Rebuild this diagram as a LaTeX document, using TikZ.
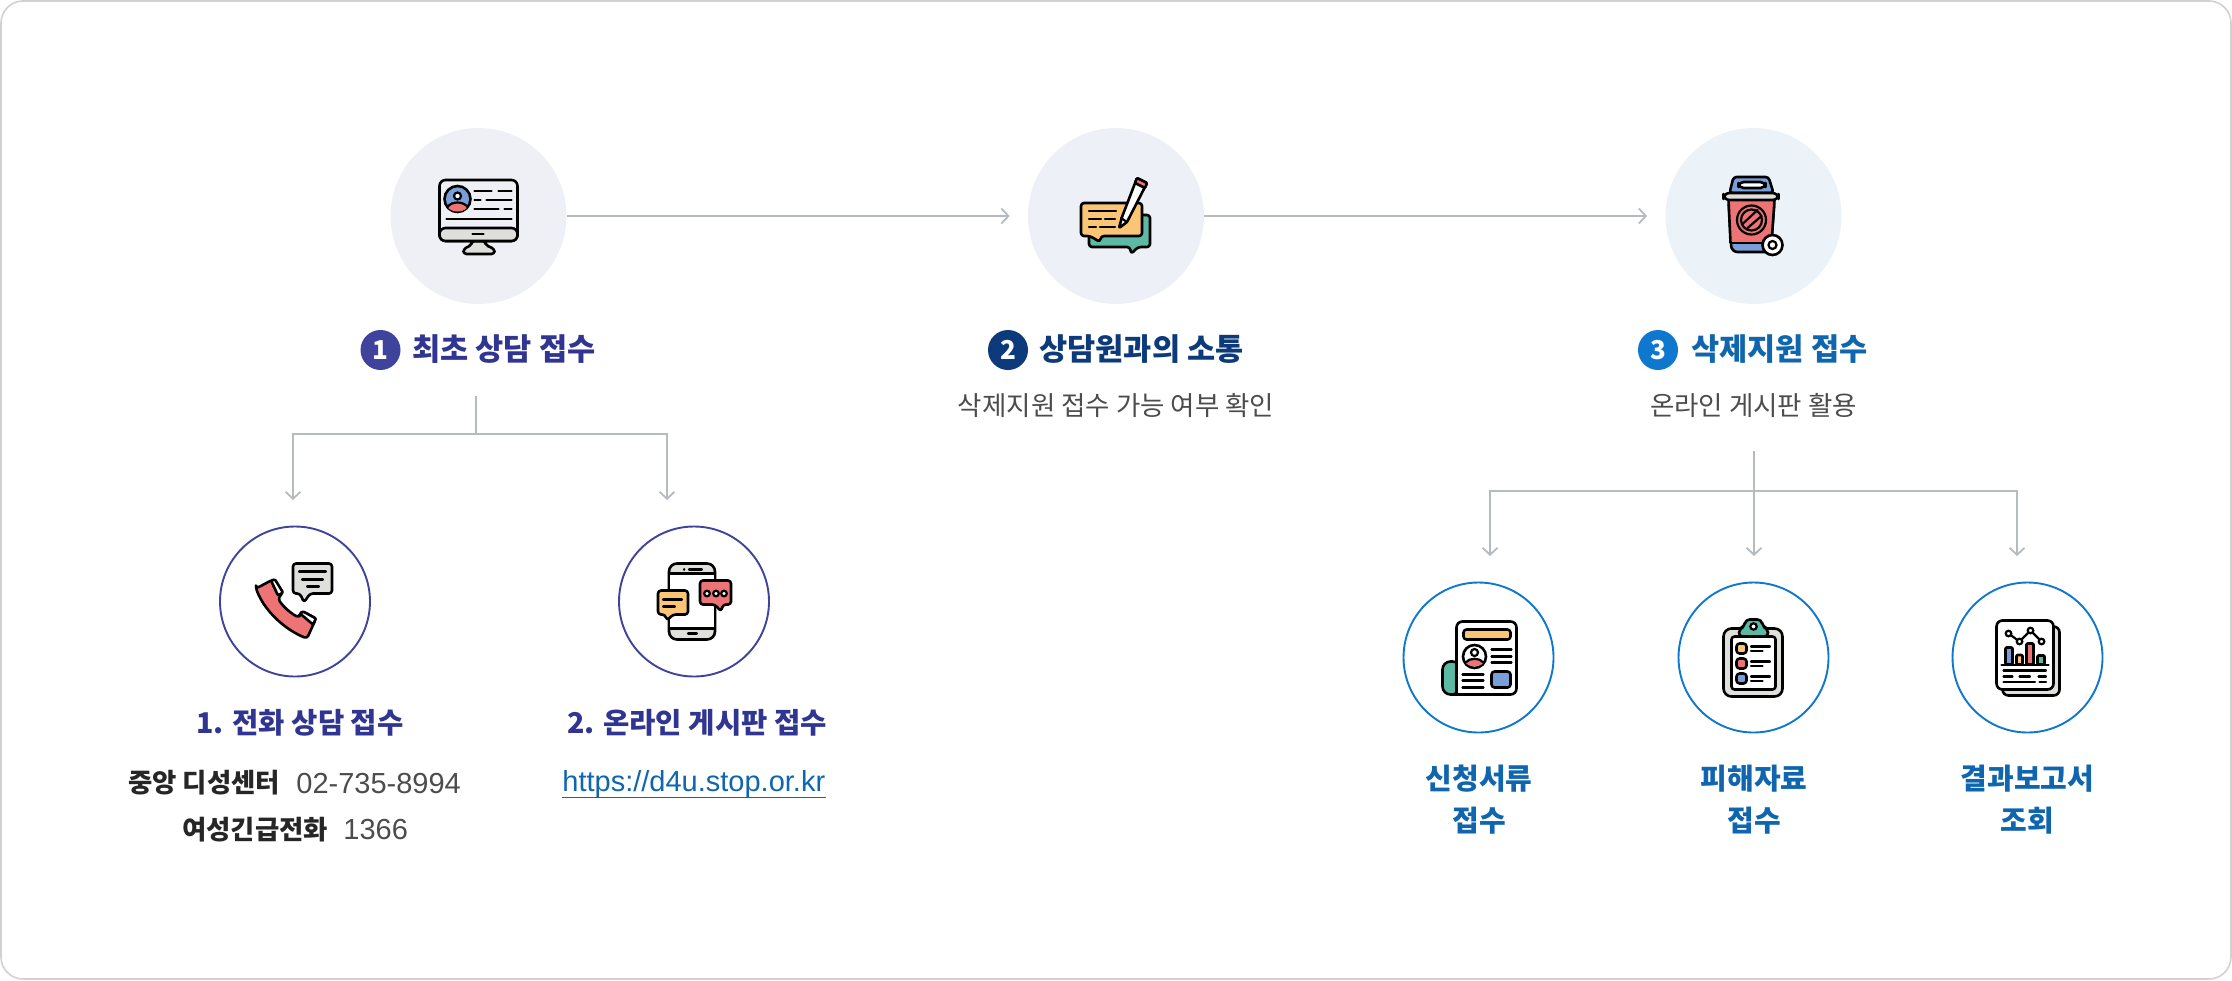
\documentclass[tikz,border=0pt]{standalone}
\usepackage{fontspec}
\setmainfont{Noto Sans CJK KR}
\newfontfamily\latinfont{Liberation Sans}
\usetikzlibrary{arrows.meta}
\definecolor{discone}{HTML}{EFF0F6}
\definecolor{disctwo}{HTML}{EDF0F6}
\definecolor{discthree}{HTML}{EBF2F8}
\definecolor{purpleink}{HTML}{2F3590}
\definecolor{purplering}{HTML}{3F439B}
\definecolor{navyink}{HTML}{0D3A7A}
\definecolor{blueink}{HTML}{0F65AE}
\definecolor{bluering}{HTML}{0E78CF}
\definecolor{flowgray}{HTML}{B5BBC1}
\definecolor{iconorange}{HTML}{FBC576}
\definecolor{iconred}{HTML}{EE7374}
\definecolor{iconblue}{HTML}{7A9FD8}
\definecolor{icongreen}{HTML}{5BB9A4}
\definecolor{icongray}{HTML}{DFDFDC}
\begin{document}
\begin{tikzpicture}[x=0.5pt,y=-0.5pt,
			bigdisc/.style={
				circle,
				minimum size = 88pt,
				inner sep = 0},
			ring/.style={
				circle,
				draw,
				line width = 0.95pt,
				minimum size = 75pt,
				inner sep = 0},
			badge/.style={
				circle,
				minimum size = 20pt,
				inner sep = 0,
				text = white,
				font = \fontsize{13}{13}\selectfont\bfseries},
			steptitle/.style={
				anchor = base west,
				inner sep = 0,
				font = \fontsize{15.3}{15.3}\selectfont\bfseries},
			subtitle/.style={
				anchor = base,
				inner sep = 0,
				color = purpleink,
				font = \fontsize{14.3}{14.3}\selectfont\bfseries},
			note/.style={
				anchor = base,
				inner sep = 0,
				color = black!70,
				font = \fontsize{13.25}{13.25}\selectfont},
			contact/.style={
				anchor = base west,
				inner sep = 0,
				color = black!85,
				font = \fontsize{13.2}{13.2}\selectfont\bfseries},
			number/.style={
				anchor = base west,
				inner sep = 0,
				color = black!70,
				font = \fontsize{14.5}{14.5}\selectfont\latinfont},
			doclabel/.style={
				anchor = base,
				inner sep = 0,
				color = blueink,
				font = \fontsize{14.5}{14.5}\selectfont\bfseries},
			flow/.style={
				draw = flowgray,
				line width = 0.9pt,
				-{Straight Barb[length=3.5pt,width=7.5pt]}},
			stem/.style={
				draw = flowgray,
				line width = 0.9pt},
			ink/.style={
				draw = black,
				line width = 1.3pt,
				line join = round,
				rounded corners = 1.5pt},
			rule/.style={
				draw = black,
				line width = 1.1pt,
				line cap = round}]
	\useasboundingbox (0, 0) rectangle (2232, 980);
	\draw[draw=black!18, line width=0.8pt, rounded corners=11pt] (1, 1) rectangle (2231, 979);

	\node at (478.5, 216) [bigdisc, fill=discone] (stepone) {};
	\node at (1116, 216) [bigdisc, fill=disctwo] (steptwo) {};
	\node at (1753.5, 216) [bigdisc, fill=discthree] (stepthree) {};
	\node at (295, 601.5) [ring, draw=purplering] (phone) {};
	\node at (694, 601.5) [ring, draw=purplering] (online) {};
	\node at (1478.5, 657.5) [ring, draw=bluering] (forms) {};
	\node at (1753.5, 657.5) [ring, draw=bluering] (clip) {};
	\node at (2027.5, 657.5) [ring, draw=bluering] (report) {};

	\node at (380.5, 350) [badge, fill=purplering] (badgeone) {1};
	\node at (1008, 350) [badge, fill=navyink] (badgetwo) {2};
	\node at (1658, 350) [badge, fill=bluering] (badgethree) {3};
	\node at (412, 360) [steptitle, color=purpleink] (titleone) {최초 상담 접수};
	\node at (1039, 360) [steptitle, color=navyink] (titletwo) {상담원과의 소통};
	\node at (1691, 360) [steptitle, color=blueink] (titlethree) {삭제지원 접수};
	\node at (1116, 415) [note] (notetwo) {삭제지원 접수 가능 여부 확인};
	\node at (1753.5, 415) [note] (notethree) {온라인 게시판 활용};

	\node at (300, 733) [subtitle] (phonetitle) {1. 전화 상담 접수};
	\node at (697, 733) [subtitle] (onlinetitle) {2. 온라인 게시판 접수};
	\node at (128, 792) [contact] (centername) {중앙 디성센터};
	\node at (296, 793) [number] (centernum) {02-735-8994};
	\node at (182, 839) [contact] (womenname) {여성긴급전화};
	\node at (343, 839) [number] (womennum) {1366};
	\node at (562, 791) [number, color=blueink] (url) {https://d4u.stop.or.kr};
	\draw[draw=blueink, line width=0.9pt] (url.south west) -- (url.south east);

	\node at (1479, 789) [doclabel] (formsa) {신청서류};
	\node at (1479, 831) [doclabel] (formsb) {접수};
	\node at (1754, 789) [doclabel] (clipa) {피해자료};
	\node at (1754, 831) [doclabel] (clipb) {접수};
	\node at (2027.5, 789) [doclabel] (reporta) {결과보고서};
	\node at (2027.5, 831) [doclabel] (reportb) {조회};

	\draw[flow, shorten >=9pt] (stepone) -- (steptwo);
	\draw[flow, shorten >=9pt] (steptwo) -- (stepthree);

	\coordinate (stemone) at (476, 396);
	\coordinate (forkone) at (476, 434);
	\coordinate (endphone) at (293, 500);
	\coordinate (endonline) at (667, 500);
	\draw[stem] (stemone) -- (forkone);
	\draw[flow] (forkone) -| (endphone);
	\draw[flow] (forkone) -| (endonline);

	\coordinate (stemthree) at (1754, 451);
	\coordinate (forkthree) at (1754, 491);
	\coordinate (endforms) at (1490, 556);
	\coordinate (endclip) at (1754, 556);
	\coordinate (endreport) at (2017, 556);
	\draw[stem] (stemthree) -- (forkthree);
	\draw[flow] (forkthree) -| (endforms);
	\draw[flow] (forkthree) -- (endclip);
	\draw[flow] (forkthree) -| (endreport);

	% monitor
	\begin{scope}[shift={(478.5, 216)}]
		\draw[ink, fill=icongray] (-7, 25) -- (-7, 29) -- (-15, 33) -- (-15, 38) -- (16, 38) -- (16, 33) -- (7, 29) -- (7, 25) -- cycle;
		\draw[ink, fill=discone, rounded corners=3pt] (-39, -36) rectangle (39, 25);
		\draw[ink, fill=icongray, rounded corners=3pt] (-39, 12) -- (39, 12) -- (39, 25) -- (-39, 25) -- cycle;
		\draw[ink, fill=iconblue] (-21, -17) circle [radius=13];
		\fill[iconred] (-31, -9) .. controls (-27, -15) and (-15, -15) .. (-11, -9) .. controls (-15, -3) and (-27, -3) .. cycle;
		\draw[rule] (-31, -9) .. controls (-27, -15) and (-15, -15) .. (-11, -9);
		\draw[rule, fill=white] (-21, -20) circle [radius=3.5];
		\draw[rule] (-4, -25) -- (13, -25) (20, -25) -- (33, -25);
		\draw[rule] (-4, -16) -- (2, -16) (8, -16) -- (33, -16);
		\draw[rule] (-4, -7) -- (20, -7) (26, -7) -- (33, -7);
		\draw[rule] (-32, 3) -- (33, 3);
		\draw[rule] (-6, 18) -- (5, 18);
	\end{scope}

	% chat and pencil
	\begin{scope}[shift={(1116, 216)}]
		\draw[ink, fill=icongreen] (-27, -1) -- (34, -1) -- (34, 31) -- (22, 31) -- (15, 38) -- (14, 31) -- (-27, 31) -- cycle;
		\draw[ink, fill=iconorange] (-35, -13) -- (26, -13) -- (26, 20) -- (-15, 20) -- (-16, 26) -- (-26, 20) -- (-35, 20) -- cycle;
		\draw[rule] (-27, -5) -- (0, -5);
		\draw[rule] (-27, 3) -- (-15, 3) (-11, 3) -- (-1, 3);
		\draw[rule] (-27, 11) -- (-20, 11) (-16, 11) -- (-1, 11);
		\draw[ink, fill=white, rounded corners=0.5pt] (3, 12) -- (6, 1) -- (21, -38) -- (31, -33) -- (11, 6) -- cycle;
		\draw[ink, fill=iconred, rounded corners=0.5pt] (21, -38) -- (31, -33) -- (29, -28) -- (19, -33) -- cycle;
		\draw[rule] (5, 2) -- (11, 6);
	\end{scope}

	% bin
	\begin{scope}[shift={(1753.5, 216)}]
		\draw[ink, fill=iconblue] (-20, -39) -- (15, -39) -- (20, -23) -- (-24, -23) -- cycle;
		\draw[ink, fill=white, rounded corners=2.5pt] (-15, -34) rectangle (12, -28);
		\draw[ink, fill=iconblue, rounded corners=3pt] (-25, -16) -- (21, -16) -- (17, 36) -- (-22, 36) -- cycle;
		\fill[iconred] (-24.3, -15) -- (20.3, -15) -- (18.2, 26) -- (-23, 26) -- cycle;
		\draw[ink] (-23.3, 27) -- (18, 27);
		\draw[ink, rounded corners=0pt] (-25, -16) -- (-23, 27) (21, -16) -- (18, 27);
		\draw[ink, fill=icongray, rounded corners=3pt] (-30, -23) rectangle (25, -16);
		\draw[rule] (-2, 4) circle [radius=14.5];
		\draw[rule] (-2, 4) circle [radius=10.5];
		\draw[rule] (-11, 8) -- (4, -6) (-6, 12) -- (8, 0);
		\draw[ink, fill=white] (19, 29) circle [radius=10];
		\draw[rule, fill=white] (19, 29) circle [radius=4];
	\end{scope}

	% handset
	\begin{scope}[shift={(295, 601.5)}]
		\draw[ink, fill=iconred] (-39, -13) -- (-22, -22) -- (-12, -9) -- (-17, -3) .. controls (-12, 5) and (-4, 12) .. (4, 16) -- (5, 12) -- (8, 10) -- (21, 17) -- (12, 37) .. controls (-10, 28) and (-30, 10) .. cycle;
		\draw[ink, fill=white, rounded corners=0.5pt] (-24, -21) -- (-20, -22) -- (-12, -9) -- (-17, -6) -- cycle;
		\draw[ink, fill=white, rounded corners=0.5pt] (5, 12) -- (8, 10) -- (21, 17) -- (18, 23) -- cycle;
		\draw[ink, fill=icongray] (-2, -38) -- (37, -38) -- (37, -8) -- (15, -8) -- (9, 1) -- (5, -8) -- (-2, -8) -- cycle;
		\draw[rule] (4, -30) -- (31, -30);
		\draw[rule] (7, -22) -- (28, -22);
		\draw[rule] (12, -15) -- (24, -15);
	\end{scope}

	% mobile
	\begin{scope}[shift={(694, 601.5)}]
		\draw[ink, fill=icongray, rounded corners=4pt] (-25, -38) rectangle (21, 38);
		\draw[fill=white, draw=black, line width=1.3pt] (-25, -28) rectangle (21, 27);
		\draw[rule] (-10, -32) -- (-9.8, -32) (-5, -32) -- (8, -32);
		\draw[rule] (-6, 32) -- (3, 32);
		\draw[ink, fill=iconorange] (-36, -11) -- (-6, -11) -- (-6, 13) -- (-21, 13) -- (-27, 19) -- (-29, 13) -- (-36, 13) -- cycle;
		\draw[rule] (-31, -2) -- (-12, -2);
		\draw[rule] (-31, 5) -- (-19, 5);
		\draw[ink, fill=iconred] (6, -21) -- (37, -21) -- (37, 3) -- (29, 3) -- (27, 10) -- (21, 3) -- (6, 3) -- cycle;
		\foreach \dotx in {13, 22, 30} {
			\draw[rule, fill=white] (\dotx, -8) circle [radius=2.8];
		}
	\end{scope}

	% application form
	\begin{scope}[shift={(1478.5, 657.5)}]
		\draw[ink, fill=icongreen, rounded corners=4pt] (-36, 4) rectangle (-18, 37);
		\draw[ink, fill=white, rounded corners=3pt] (-22, -36) -- (38, -36) -- (38, 37) -- (-29, 37) .. controls (-24, 37) and (-22, 34) .. (-22, 30) -- cycle;
		\draw[ink, fill=iconorange] (-15, -28) rectangle (32, -18);
		\draw[ink, fill=white] (-4, -1) circle [radius=11.5];
		\fill[iconred] (-13, 5) .. controls (-9, 0) and (1, 0) .. (5, 5) .. controls (2, 10) and (-10, 10) .. cycle;
		\draw[rule] (-13, 5) .. controls (-9, 0) and (1, 0) .. (5, 5);
		\draw[rule] (-4, -5) circle [radius=3.5];
		\draw[rule] (13, -8) -- (33, -8) (13, -1) -- (33, -1) (13, 5) -- (33, 5);
		\draw[rule] (-16, 17) -- (5, 17) (-16, 23) -- (5, 23) (-16, 30) -- (5, 30);
		\draw[ink, fill=iconblue] (13, 14) rectangle (32, 30);
	\end{scope}

	% clipboard
	\begin{scope}[shift={(1753.5, 657.5)}]
		\draw[ink, fill=icongray, rounded corners=4pt] (-30, -29) rectangle (29, 39);
		\draw[ink, fill=white] (-22, -21) rectangle (22, 32);
		\draw[ink, fill=icongreen, rounded corners=2pt] (-15, -21) -- (-14, -29) -- (-9, -31) -- (-8, -38) -- (8, -38) -- (9, -31) -- (14, -29) -- (15, -21) -- cycle;
		\draw[rule, fill=white] (0, -31) circle [radius=3.2];
		\draw[ink, fill=iconorange] (-17, -14) rectangle (-7, -4);
		\draw[ink, fill=iconred] (-17, 1) rectangle (-7, 11);
		\draw[ink, fill=iconblue] (-17, 16) rectangle (-7, 26);
		\draw[rule] (-2.5, -11) -- (16.5, -11) (-2.5, -6.5) -- (9, -6.5);
		\draw[rule] (-2.5, 4) -- (16.5, 4) (-2.5, 8.5) -- (9, 8.5);
		\draw[rule] (-2.5, 19) -- (16.5, 19) (-2.5, 23.5) -- (9, 23.5);
	\end{scope}

	% chart sheets
	\begin{scope}[shift={(2027.5, 657.5)}]
		\draw[ink, fill=icongray, rounded corners=3pt] (-25, -31) rectangle (32, 38);
		\draw[ink, fill=white, rounded corners=3pt] (-31, -37) rectangle (26, 32);
		\draw[rule] (-19, -24) -- (-8, -16) -- (3, -27) -- (14, -16);
		\foreach \ptx/\pty in {-19/-24, -8/-16, 3/-27, 14/-16} {
			\draw[rule, fill=white] (\ptx, \pty) circle [radius=2.8];
		}
		\draw[ink, fill=iconblue, rounded corners=0.5pt] (-22, -10) rectangle (-15, 7);
		\draw[ink, fill=iconorange, rounded corners=0.5pt] (-11, -2.5) rectangle (-5, 7);
		\draw[ink, fill=iconred, rounded corners=0.5pt] (-1, -14) rectangle (6, 7);
		\draw[ink, fill=icongreen, rounded corners=0.5pt] (10, -2) rectangle (17, 7);
		\draw[rule] (-26, 7.5) -- (21, 7.5);
		\draw[rule] (-24, 13) -- (18.5, 13);
		\draw[rule] (-24, 19) -- (-15, 19) (-8, 19) -- (2.5, 19) (11, 19) -- (18.5, 19);
		\draw[rule] (-24, 24.5) -- (7.5, 24.5) (12, 24.5) -- (18.5, 24.5);
	\end{scope}
\end{tikzpicture}
\end{document}
